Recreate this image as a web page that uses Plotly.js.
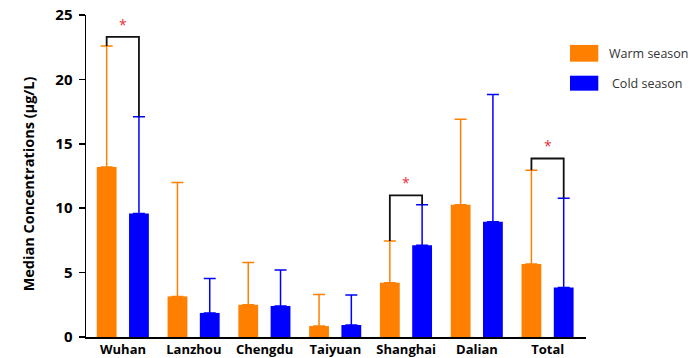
<!DOCTYPE html>
<html><head><meta charset="utf-8">
<script src="https://cdn.plot.ly/plotly-3.0.1.min.js"></script>
<style>html,body{margin:0;padding:0;background:#fff}#chart{width:699px;height:358px}</style>
</head><body><div id="chart"></div>
<script>
const categories = ['Wuhan','Lanzhou','Chengdu','Taiyuan','Shanghai','Dalian','Total'];
const warmMedian = [13.2, 3.15, 2.5, 0.85, 4.22, 10.26, 5.67];
const warmUpper  = [22.6, 12.0, 5.78, 3.3, 7.46, 16.9, 12.95];
const coldMedian = [9.58, 1.87, 2.41, 0.93, 7.13, 8.94, 3.84];
const coldUpper  = [17.1, 4.54, 5.2, 3.27, 10.26, 18.83, 10.78];
const sigCategories = ['Wuhan','Shanghai','Total'];
const sigBracketTop = [23.3, 11.0, 13.86];
const seriesNames = ['Warm season','Cold season'];
const yTicks = [0,5,10,15,20,25];
const yTitle = 'Median Concentrations (μg/L)';

const ORANGE = '#FF8000', BLUE = '#0000FF';
const BW = 0.28, OFF_W = -0.371, OFF_C = 0.085;
const idx = categories.map((c,i)=>i);

const traces = [
  {type:'bar', name:seriesNames[0], x:idx, y:warmMedian, width:BW, offset:OFF_W,
   marker:{color:ORANGE}, showlegend:false,
   error_y:{type:'data', symmetric:false, array:warmUpper.map((u,i)=>u-warmMedian[i]),
            arrayminus:warmMedian.map(()=>0), color:ORANGE, thickness:1.5, width:6}},
  {type:'bar', name:seriesNames[1], x:idx, y:coldMedian, width:BW, offset:OFF_C,
   marker:{color:BLUE}, showlegend:false,
   error_y:{type:'data', symmetric:false, array:coldUpper.map((u,i)=>u-coldMedian[i]),
            arrayminus:coldMedian.map(()=>0), color:BLUE, thickness:1.5, width:6}}
];

const shapes = [];
const annotations = [];
sigCategories.forEach((c,k)=>{
  const i = categories.indexOf(c);
  const xl = i + OFF_W + BW/2, xr = i + OFF_C + BW/2, top = sigBracketTop[k];
  shapes.push({type:'path', xref:'x', yref:'y',
    path:`M ${xl},${warmUpper[i]} L ${xl},${top} L ${xr},${top} L ${xr},${coldUpper[i]}`,
    line:{color:'#111', width:1.8}});
  annotations.push({x:(xl+xr)/2, y:top, xref:'x', yref:'y', text:'*', showarrow:false,
    yanchor:'bottom', yshift:1, font:{family:'Open Sans, sans-serif', size:14, color:'#e8303a'}});
});

// legend drawn as shapes + text
const legY = [[0.855,0.907],[0.765,0.8115]];
const legColors = [ORANGE, BLUE];
const legTextX = [1.042, 1.048];
seriesNames.forEach((n,k)=>{
  shapes.push({type:'rect', xref:'paper', yref:'paper', x0:0.968, x1:1.0246, y0:legY[k][0], y1:legY[k][1],
    fillcolor:legColors[k], line:{width:0}});
  annotations.push({xref:'paper', yref:'paper', x:legTextX[k], y:(legY[k][0]+legY[k][1])/2,
    xanchor:'left', yanchor:'middle', text:n, showarrow:false,
    font:{family:'Open Sans, sans-serif', size:12.5, color:'#333'}});
});

// y-axis title as rotated annotation
annotations.push({xref:'paper', yref:'paper', x:-0.116, y:0.474, xanchor:'center', yanchor:'middle',
  text:yTitle, textangle:-90, showarrow:false,
  font:{family:'Open Sans, sans-serif', size:14.5, weight:'bold', color:'#000'}});

const layout = {
  width:699, height:358,
  margin:{l:86, r:113, t:15, b:21},
  paper_bgcolor:'#fff', plot_bgcolor:'#fff',
  font:{family:'Open Sans, sans-serif', color:'#000'},
  showlegend:false,
  xaxis:{range:[-0.523, 6.54], tickvals:idx, ticktext:categories, ticks:'', showgrid:false,
         zeroline:false, showline:true, linecolor:'#000', linewidth:1.5, automargin:false,
         tickfont:{size:13, weight:'bold', color:'#000'}},
  yaxis:{range:[0,25], tickvals:yTicks, ticks:'outside', ticklen:6, tickwidth:1.5, tickcolor:'#000',
         showgrid:false, zeroline:false, showline:true, linecolor:'#000', linewidth:1.5, automargin:false,
         ticklabelstandoff:3,
         tickfont:{size:15, weight:'bold', color:'#000'}},
  shapes:shapes, annotations:annotations
};
Plotly.newPlot('chart', traces, layout, {displayModeBar:false, staticPlot:true});
</script></body></html>
